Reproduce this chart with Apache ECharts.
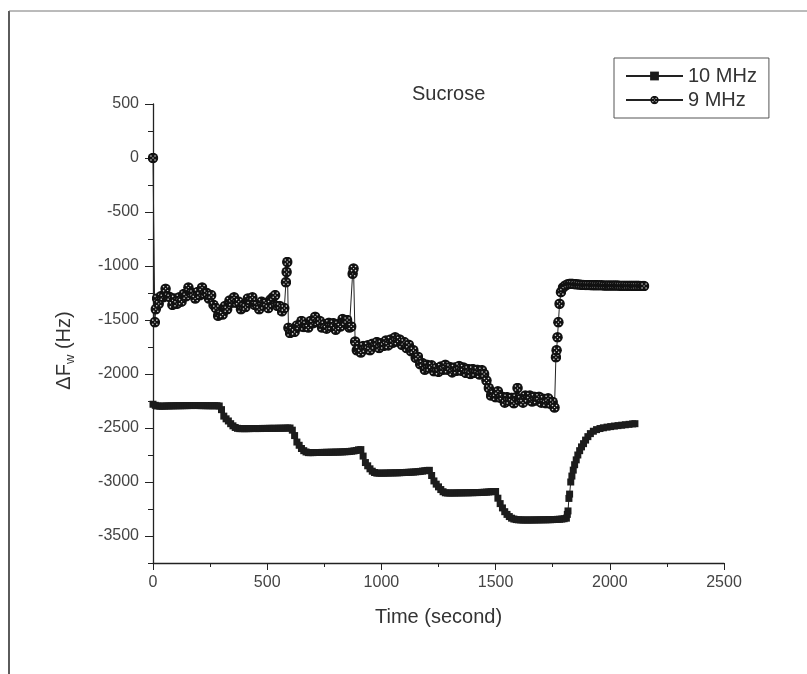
<!DOCTYPE html>
<html>
<head>
<meta charset="utf-8">
<script src="https://cdn.jsdelivr.net/npm/echarts@6/dist/echarts.min.js"></script>
<style>
  html, body { margin: 0; padding: 0; background: #fff; }
  #main { width: 807px; height: 674px; }
</style>
</head>
<body>
<div id="main"></div>
<script>
// [time (s), ΔFw (Hz)]
var mhz10 = [
  [0,-2280],[10,-2290],[20,-2296],[30,-2298],[40,-2298],[50,-2297],[60,-2296],[70,-2296],[80,-2295],[90,-2295],
  [100,-2294],[110,-2294],[120,-2294],[130,-2293],[140,-2293],[150,-2293],[160,-2292],[170,-2292],[180,-2292],[190,-2292],
  [200,-2292],[210,-2293],[220,-2293],[230,-2293],[240,-2294],[250,-2294],[260,-2294],[270,-2294],[280,-2294],[290,-2296],
  [300,-2330],[310,-2390],[320,-2415],[330,-2435],[340,-2460],[350,-2480],[360,-2495],[370,-2503],[380,-2506],[390,-2506],
  [400,-2506],[410,-2506],[420,-2506],[430,-2505],[440,-2505],[450,-2505],[460,-2505],[470,-2505],[480,-2504],[490,-2504],
  [500,-2504],[510,-2503],[520,-2503],[530,-2503],[540,-2503],[550,-2502],[560,-2502],[570,-2502],[580,-2501],[590,-2500],
  [600,-2500],[610,-2520],[620,-2570],[630,-2630],[640,-2660],[650,-2690],[660,-2710],[670,-2722],[680,-2728],[690,-2728],
  [700,-2728],[710,-2727],[720,-2727],[730,-2727],[740,-2726],[750,-2726],[760,-2725],[770,-2725],[780,-2724],[790,-2724],
  [800,-2723],[810,-2723],[820,-2722],[830,-2721],[840,-2720],[850,-2719],[860,-2717],[870,-2715],[880,-2712],[890,-2708],
  [900,-2702],[910,-2700],[920,-2760],[930,-2820],[940,-2850],[950,-2878],[960,-2900],[970,-2912],[980,-2918],[990,-2918],
  [1000,-2918],[1010,-2918],[1020,-2917],[1030,-2917],[1040,-2916],[1050,-2916],[1060,-2915],[1070,-2915],[1080,-2914],[1090,-2913],
  [1100,-2912],[1110,-2911],[1120,-2910],[1130,-2909],[1140,-2908],[1150,-2906],[1160,-2904],[1170,-2902],[1180,-2899],[1190,-2896],
  [1200,-2893],[1210,-2892],[1220,-2940],[1230,-2990],[1240,-3020],[1250,-3045],[1260,-3070],[1270,-3090],[1280,-3100],[1290,-3102],
  [1300,-3102],[1310,-3102],[1320,-3102],[1330,-3101],[1340,-3101],[1350,-3101],[1360,-3100],[1370,-3100],[1380,-3100],[1390,-3099],
  [1400,-3099],[1410,-3098],[1420,-3098],[1430,-3097],[1440,-3096],[1450,-3095],[1460,-3094],[1470,-3092],[1480,-3090],[1490,-3089],
  [1500,-3088],[1510,-3150],[1520,-3200],[1530,-3240],[1540,-3275],[1550,-3300],[1560,-3320],[1570,-3335],[1580,-3343],[1590,-3348],
  [1600,-3350],[1610,-3351],[1620,-3352],[1630,-3352],[1640,-3352],[1650,-3352],[1660,-3352],[1670,-3351],[1680,-3351],[1690,-3351],
  [1700,-3350],[1710,-3350],[1720,-3350],[1730,-3349],[1740,-3349],[1750,-3348],[1760,-3347],[1770,-3346],[1780,-3345],[1790,-3343],
  [1800,-3340],[1810,-3335],[1814,-3300],[1817,-3268],[1821,-3152],[1824,-3112],[1829,-3000],[1834,-2945],[1840,-2890],[1846,-2840],
  [1853,-2795],[1860,-2750],[1868,-2710],[1876,-2675],[1885,-2645],[1894,-2612],[1904,-2580],[1915,-2552],[1928,-2530],[1942,-2515],
  [1957,-2505],[1972,-2498],[1988,-2492],[2004,-2487],[2020,-2482],[2036,-2478],[2052,-2474],[2068,-2470],[2084,-2466],[2100,-2462],
  [2110,-2460]
];

var mhz9 = [
  [0,0],[8,-1520],[12,-1400],[18,-1300],[25,-1350],[35,-1280],[45,-1290],[55,-1210],[65,-1280],[75,-1290],
  [85,-1360],[95,-1300],[105,-1350],[115,-1290],[125,-1330],[135,-1260],[145,-1280],[155,-1200],[165,-1250],[175,-1250],
  [185,-1300],[195,-1240],[205,-1270],[215,-1200],[225,-1260],[235,-1250],[245,-1300],[255,-1270],[265,-1360],[275,-1390],
  [285,-1460],[295,-1440],[305,-1450],[315,-1370],[325,-1400],[335,-1320],[345,-1340],[355,-1290],[365,-1340],[375,-1330],
  [385,-1400],[395,-1370],[405,-1380],[415,-1300],[425,-1320],[435,-1290],[445,-1360],[455,-1360],[465,-1400],[475,-1330],
  [485,-1370],[495,-1340],[505,-1390],[515,-1310],[525,-1290],[535,-1270],[545,-1370],[555,-1370],[565,-1420],[575,-1390],
  [582,-1150],[585,-1056],[588,-963],[593,-1571],[600,-1620],[610,-1590],[620,-1610],[630,-1550],[640,-1560],[650,-1510],
  [660,-1565],[670,-1540],[680,-1570],[690,-1510],[700,-1530],[710,-1470],[720,-1520],[730,-1510],[740,-1570],[750,-1540],
  [760,-1580],[770,-1525],[780,-1560],[790,-1530],[800,-1590],[810,-1540],[820,-1560],[830,-1490],[840,-1520],[850,-1500],
  [860,-1570],[868,-1560],[874,-1071],[878,-1024],[885,-1700],[892,-1780],[900,-1770],[910,-1800],[920,-1740],[930,-1770],
  [940,-1735],[950,-1780],[960,-1720],[970,-1740],[980,-1705],[990,-1760],[1000,-1715],[1010,-1740],[1020,-1690],[1030,-1735],
  [1040,-1680],[1050,-1710],[1060,-1660],[1070,-1700],[1080,-1680],[1090,-1730],[1100,-1705],[1110,-1760],[1120,-1730],[1130,-1790],
  [1140,-1780],[1150,-1850],[1160,-1840],[1170,-1910],[1180,-1900],[1190,-1960],[1200,-1915],[1210,-1945],[1220,-1920],[1230,-1975],
  [1240,-1945],[1250,-1980],[1260,-1930],[1270,-1960],[1280,-1915],[1290,-1960],[1300,-1935],[1310,-1985],[1320,-1940],[1330,-1970],
  [1340,-1925],[1350,-1970],[1360,-1940],[1370,-1990],[1380,-1955],[1390,-2000],[1400,-1955],[1410,-1990],[1420,-1960],[1430,-2005],
  [1440,-1965],[1450,-2000],[1460,-2060],[1470,-2130],[1480,-2200],[1490,-2180],[1500,-2215],[1510,-2160],[1520,-2220],[1530,-2210],
  [1540,-2265],[1550,-2215],[1560,-2250],[1570,-2220],[1580,-2270],[1590,-2215],[1596,-2130],[1602,-2240],[1610,-2230],[1620,-2265],
  [1630,-2200],[1640,-2230],[1650,-2200],[1660,-2255],[1670,-2210],[1680,-2245],[1690,-2210],[1700,-2265],[1710,-2230],[1720,-2270],
  [1730,-2225],[1740,-2275],[1750,-2260],[1758,-2310],[1764,-1845],[1767,-1780],[1771,-1660],[1775,-1520],[1780,-1350],[1786,-1242],
  [1795,-1200],[1805,-1180],[1815,-1170],[1825,-1165],[1835,-1165],[1845,-1168],[1855,-1170],[1865,-1172],[1875,-1174],[1885,-1175],
  [1895,-1176],[1905,-1176],[1915,-1177],[1925,-1178],[1935,-1178],[1945,-1178],[1955,-1179],[1965,-1179],[1975,-1180],[1985,-1180],
  [1995,-1180],[2005,-1180],[2015,-1181],[2025,-1181],[2035,-1181],[2045,-1182],[2055,-1182],[2065,-1182],[2075,-1183],[2085,-1183],
  [2095,-1183],[2105,-1184],[2115,-1184],[2125,-1184],[2135,-1185],[2145,-1185],[2150,-1185]
];

var yMajor = [-3500, -3000, -2500, -2000, -1500, -1000, -500, 0, 500];

// dark patterned circle like the scan's "9 MHz" marker
var dotSvg = "<svg xmlns='http://www.w3.org/2000/svg' width='24' height='24' viewBox='0 0 24 24'>" +
  "<circle cx='12' cy='12' r='11.5' fill='#111'/>" +
  "<circle cx='7.6' cy='7.6' r='1.7' fill='#ddd'/><circle cx='16.4' cy='7.6' r='1.7' fill='#ddd'/>" +
  "<circle cx='7.6' cy='16.4' r='1.7' fill='#ddd'/><circle cx='16.4' cy='16.4' r='1.7' fill='#ddd'/>" +
  "<circle cx='12' cy='12' r='1.4' fill='#ddd'/></svg>";
var dotSymbol = 'image://data:image/svg+xml;charset=utf-8,' + encodeURIComponent(dotSvg);

var font = 'Liberation Sans, Arial, sans-serif';
var plain = function (v) { return String(v); };
var chart = echarts.init(document.getElementById('main'));
chart.setOption({
  animation: false,
  backgroundColor: '#fff',
  textStyle: { fontFamily: font },
  title: {
    text: 'Sucrose', left: 407, top: 79,
    textStyle: { fontSize: 20, fontWeight: 'normal', color: '#333', fontFamily: font }
  },
  legend: {
    left: 614, top: 58, orient: 'vertical',
    padding: [8, 12, 8, 11], itemGap: 4, itemWidth: 57, itemHeight: 11,
    borderColor: '#555', borderWidth: 1, borderRadius: 0,
    textStyle: { fontSize: 20, color: '#333', lineHeight: 20, fontFamily: font },
    data: ['10 MHz', '9 MHz']
  },
  grid: { left: 153, right: 83, top: 104, bottom: 111, containLabel: false, outerBoundsMode: 'none' },
  xAxis: {
    type: 'value', min: 0, max: 2500, interval: 500,
    name: 'Time (second)', nameLocation: 'middle', nameGap: 44,
    nameTextStyle: { fontSize: 20, color: '#333', fontFamily: font },
    axisLine: { onZero: false, lineStyle: { color: '#222', width: 1.3 } },
    axisTick: { length: 7, lineStyle: { color: '#222' } },
    minorTick: { show: true, splitNumber: 2, length: 4, lineStyle: { color: '#222' } },
    axisLabel: { fontSize: 16, color: '#444', margin: 12, fontFamily: font, formatter: plain },
    splitLine: { show: false }
  },
  yAxis: [{
    type: 'value', min: -3750, max: 500, interval: 250, position: 'left',
    name: '{a|ΔF}{b|w}{a| (Hz)}', nameLocation: 'middle', nameRotate: 90, nameGap: 76,
    nameTextStyle: {
      padding: [0, 34, 0, 0],
      rich: {
        a: { fontSize: 20, color: '#333', fontFamily: font },
        b: { fontSize: 13, color: '#333', fontFamily: font, padding: [12, 0, 0, 0] }
      }
    },
    axisLine: { onZero: false, lineStyle: { color: '#222', width: 1.3 } },
    axisTick: { length: 8, customValues: yMajor, lineStyle: { color: '#222' } },
    axisLabel: { fontSize: 16, color: '#444', margin: 14, customValues: yMajor, fontFamily: font, formatter: plain },
    splitLine: { show: false }
  }, {
    type: 'value', min: -3750, max: 500, interval: 250, position: 'left', offset: 0,
    axisLine: { show: false, onZero: false },
    axisTick: { length: 5, lineStyle: { color: '#222' } },
    axisLabel: { show: false },
    splitLine: { show: false }
  }],
  graphic: [
    { type: 'line', shape: { x1: 9, y1: 11, x2: 9, y2: 674 }, style: { stroke: '#333', lineWidth: 1.6 } },
    { type: 'line', shape: { x1: 9, y1: 11, x2: 807, y2: 11 }, style: { stroke: '#777', lineWidth: 1 } }
  ],
  series: [{
    name: '10 MHz', type: 'line', yAxisIndex: 0,
    data: mhz10,
    symbol: 'rect', symbolSize: 7,
    itemStyle: { color: '#1c1c1c' },
    lineStyle: { color: '#222', width: 1 }
  }, {
    name: '9 MHz', type: 'line', yAxisIndex: 0,
    data: mhz9,
    symbol: dotSymbol, symbolSize: 11,
    itemStyle: { color: '#1e1e1e' },
    lineStyle: { color: '#222', width: 1 }
  }]
});
</script>
</body>
</html>
